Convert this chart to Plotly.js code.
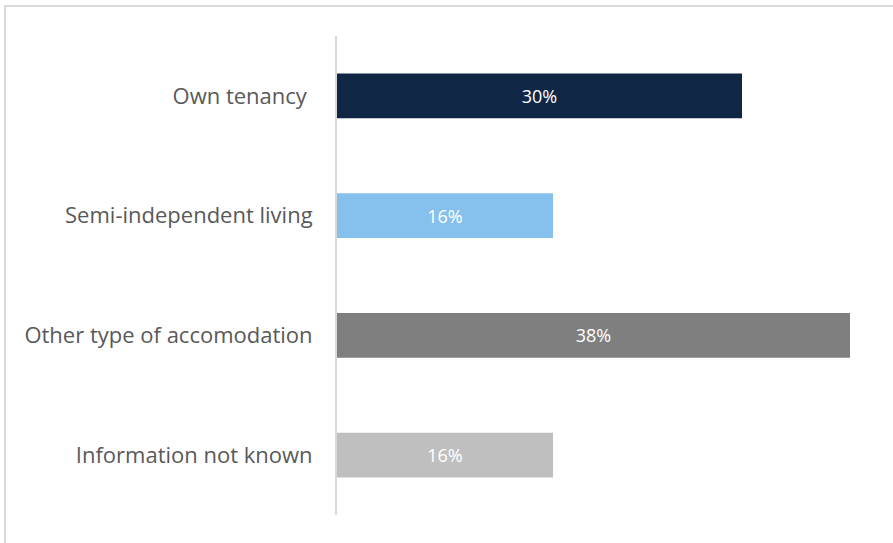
<!DOCTYPE html>
<html>
<head>
<meta charset="utf-8">
<script src="https://cdn.plot.ly/plotly-3.0.1.min.js"></script>
<style>
  html, body { margin: 0; padding: 0; background: #ffffff; overflow: hidden; }
  #frame { position: absolute; left: 4px; top: 5px; width: 1000px; height: 700px; border: 2px solid #d9d9d9; box-sizing: border-box; }
  #chart { position: absolute; left: 0; top: 0; width: 893px; height: 543px; }
</style>
</head>
<body>
<div id="frame"></div>
<div id="chart"></div>
<script>
const categories = ["Own tenancy", "Semi-independent living", "Other type of accomodation", "Information not known"];
const tickLabels = ["Own tenancy\u00a0", "Semi-independent living", "Other type of accomodation", "Information not known"];
const values = [30, 16, 38, 16];
const valueLabels = ["30%", "16%", "38%", "16%"];
const barColors = ["#0f2645", "#85c1ec", "#7f7f7f", "#bfbfbf"];

const trace = {
  type: "bar",
  orientation: "h",
  y: categories,
  x: values,
  text: valueLabels,
  textposition: "inside",
  insidetextanchor: "middle",
  textfont: { color: "#ffffff", size: 18, family: "Open Sans, sans-serif" },
  marker: { color: barColors, line: { width: 0 } },
  hoverinfo: "none"
};

const layout = {
  width: 893,
  height: 543,
  paper_bgcolor: "rgba(0,0,0,0)",
  plot_bgcolor: "rgba(0,0,0,0)",
  margin: { l: 337, r: 16, t: 35.5, b: 27.5 },
  bargap: 0.625,
  showlegend: false,
  xaxis: { range: [0, 40], visible: false, fixedrange: true },
  yaxis: {
    autorange: "reversed",
    tickmode: "array",
    tickvals: categories,
    ticktext: tickLabels,
    showline: true,
    linecolor: "#d9d9d9",
    linewidth: 2,
    showgrid: false,
    zeroline: false,
    ticks: "",
    ticklabelstandoff: 18,
    tickfont: { family: "Open Sans, sans-serif", size: 22, color: "#595959" },
    fixedrange: true
  }
};

Plotly.newPlot("chart", [trace], layout, { displayModeBar: false, staticPlot: true });
</script>
</body>
</html>
